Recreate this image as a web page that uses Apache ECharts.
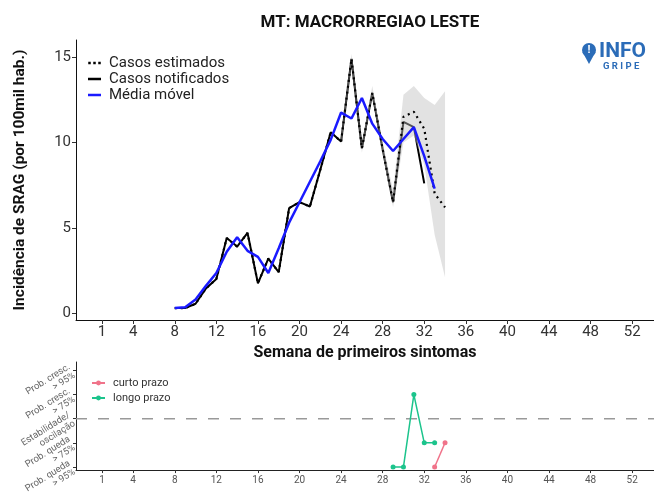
<!DOCTYPE html>
<html><head><meta charset="utf-8">
<script src="https://cdn.jsdelivr.net/npm/echarts@6/dist/echarts.min.js"></script>
<style>html,body{margin:0;padding:0;background:#fff}#c{width:654px;height:504px}</style>
</head><body><div id="c"></div>
<script>
// ---- data ----
const notifWeeks = [8,9,10,11,12,13,14,15,16,17,18,19,20,21,22,23,24,25,26,27,28,29,30,31,32];
const notificados = [0.3,0.3,0.55,1.45,2.0,4.4,3.9,4.7,1.75,3.2,2.4,6.15,6.5,6.25,8.4,10.6,10.05,14.9,9.65,12.9,9.6,6.5,11.2,10.9,7.6];
const estWeeks = [8,9,10,11,12,13,14,15,16,17,18,19,20,21,22,23,24,25,26,27,28,29,30,31,32,33,34];
const estimados = [0.3,0.3,0.55,1.45,2.0,4.4,3.9,4.7,1.75,3.2,2.4,6.15,6.5,6.25,8.4,10.6,10.05,14.9,9.65,12.9,9.6,6.5,11.5,11.8,10.8,7.0,6.2];
const ribbonWeeks = [24,25,26,27,28,29,30,31,32,33,34];
const ribbonLower = [9.8,14.6,9.4,12.7,9.3,6.2,10.0,10.4,8.7,4.6,2.1];
const ribbonUpper = [10.3,15.2,9.9,13.3,10.0,7.2,12.8,13.3,12.6,12.2,13.0];
const mmWeeks = [8,9,10,11,12,13,14,15,16,17,18,19,20,21,22,23,24,25,26,27,28,29,30,31,32,33];
const mediaMovel = [0.3,0.35,0.8,1.6,2.35,3.6,4.45,3.65,3.3,2.35,3.8,5.3,6.5,7.7,8.9,10.15,11.75,11.4,12.6,11.1,10.2,9.5,10.2,10.9,9.2,7.3];
const curtoWeeks = [33,34];
const curtoPrazo = [-2,-1];
const longoWeeks = [29,30,31,32,33];
const longoPrazo = [-2,-2,1,-1,-1];
const xTicks = [1,4,8,12,16,20,24,28,32,36,40,44,48,52];
const yTicks = [0,5,10,15];
const trendLevels = [-2,-1,0,1,2];
const trendLabels = ['Prob. queda\n> 95%','Prob. queda\n> 75%','Estabilidade/\noscilação','Prob. cresc.\n> 75%','Prob. cresc.\n> 95%'];

const pair = (xs, ys) => xs.map((x, i) => [x, ys[i]]);
const FONT = 'Roboto';

const chart = echarts.init(document.getElementById('c'), null, {renderer: 'canvas'});
const option = {
  animation: false,
  backgroundColor: '#fff',
  textStyle: {fontFamily: FONT},
  title: {
    text: 'MT: MACRORREGIAO LESTE', left: 365, top: 9, textAlign: 'center',
    textStyle: {fontFamily: FONT, fontSize: 17, fontWeight: 'bold', color: '#111'}
  },
  grid: [
    {left: 76, right: 0, top: 40, bottom: 184},
    {left: 76, right: 0, top: 362, bottom: 23.5}
  ],
  xAxis: [
    {type: 'value', gridIndex: 0, min: -1.5, max: 54.1,
     name: 'Semana de primeiros sintomas', nameLocation: 'middle', nameGap: 25,
     nameTextStyle: {fontFamily: FONT, fontSize: 16, fontWeight: 'bold', color: '#111'},
     axisLine: {show: true, onZero: false, lineStyle: {color: '#111', width: 1}},
     axisTick: {show: true, length: 4, customValues: xTicks, lineStyle: {color: '#333'}},
     axisLabel: {customValues: xTicks, fontSize: 15, color: '#333', margin: 5, fontFamily: FONT},
     splitLine: {show: false}},
    {type: 'value', gridIndex: 1, min: -1.5, max: 54.1,
     axisLine: {show: true, onZero: false, lineStyle: {color: '#222', width: 1}},
     axisTick: {show: true, length: 3, customValues: xTicks, lineStyle: {color: '#333'}},
     axisLabel: {customValues: xTicks, fontSize: 10, color: '#555', margin: 5, fontFamily: FONT},
     splitLine: {show: false}}
  ],
  yAxis: [
    {type: 'value', gridIndex: 0, min: -0.4, max: 16,
     name: 'Incidência de SRAG (por 100mil hab.)', nameLocation: 'middle', nameGap: 48, nameRotate: 90,
     nameTextStyle: {fontFamily: FONT, fontSize: 15.5, fontWeight: 'bold', color: '#111'},
     axisLine: {show: true, onZero: false, lineStyle: {color: '#111', width: 1}},
     axisTick: {show: true, length: 4, customValues: yTicks, lineStyle: {color: '#333'}},
     axisLabel: {customValues: yTicks, fontSize: 15, color: '#333', margin: 5, fontFamily: FONT},
     splitLine: {show: false}},
    {type: 'value', gridIndex: 1, min: -2.13, max: 2.35,
     axisLine: {show: true, onZero: false, lineStyle: {color: '#222', width: 1}},
     axisTick: {show: true, length: 3, customValues: trendLevels, lineStyle: {color: '#333'}},
     axisLabel: {customValues: trendLevels, fontSize: 9.5, color: '#666', margin: 4, rotate: 32,
       lineHeight: 10, fontFamily: FONT,
       formatter: v => trendLabels[trendLevels.indexOf(Math.round(v))] || ''},
     splitLine: {show: false}}
  ],
  legend: [
    {data: [
       {name: 'Casos estimados', icon: 'path://M0,0h3v3h-3zM6,0h3v3h-3zM12,0h3v3h-3z', itemStyle: {color: '#000'}},
       {name: 'Casos notificados', icon: 'rect', itemStyle: {color: '#000'}},
       {name: 'Média móvel', icon: 'rect', itemStyle: {color: '#1a1aff'}}],
     orient: 'vertical', left: 83, top: 50, itemWidth: 13, itemHeight: 2.5, itemGap: 0,
     textStyle: {fontFamily: FONT, fontSize: 15, color: '#222', lineHeight: 16, padding: [0,0,0,3]}},
    {data: ['curto prazo', 'longo prazo'], orient: 'vertical',
     left: 86, top: 372, itemWidth: 13, itemHeight: 6, itemGap: 3,
     textStyle: {fontFamily: FONT, fontSize: 11, color: '#333', lineHeight: 12, padding: [0,0,0,3]}}
  ],
  series: [
    {name: 'Casos notificados', type: 'line', xAxisIndex: 0, yAxisIndex: 0,
     data: pair(notifWeeks, notificados), symbol: 'none', z: 2,
     lineStyle: {color: '#000', width: 2}, itemStyle: {color: '#000'}},
    {name: 'ic', type: 'custom', xAxisIndex: 0, yAxisIndex: 0, z: 3, silent: true,
     data: ribbonWeeks.map((w, i) => [w, ribbonLower[i], ribbonUpper[i]]),
     encode: {x: 0, y: [1, 2]},
     renderItem: function (params, api) {
       if (params.dataIndex !== 0) return null;
       const up = ribbonWeeks.map((w, i) => api.coord([w, ribbonUpper[i]]));
       const lo = ribbonWeeks.map((w, i) => api.coord([w, ribbonLower[i]])).reverse();
       return {type: 'polygon', shape: {points: up.concat(lo)},
               style: {fill: 'rgba(190,190,190,0.45)'}};
     }},
    {name: 'Casos estimados', type: 'line', xAxisIndex: 0, yAxisIndex: 0, z: 4,
     data: pair(estWeeks, estimados), symbol: 'none',
     lineStyle: {color: '#000', width: 2.2, type: [2, 4]}, itemStyle: {color: '#000'}},
    {name: 'Média móvel', type: 'line', xAxisIndex: 0, yAxisIndex: 0, z: 5,
     data: pair(mmWeeks, mediaMovel), symbol: 'none',
     lineStyle: {color: '#1a1aff', width: 2.5}, itemStyle: {color: '#1a1aff'}},
    {name: 'estab', type: 'line', xAxisIndex: 1, yAxisIndex: 1, data: [[-1.5, 0], [54.1, 0]],
     symbol: 'none', silent: true, lineStyle: {color: '#999', width: 1.5, type: [11, 11]}},
    {name: 'curto prazo', type: 'line', xAxisIndex: 1, yAxisIndex: 1,
     data: pair(curtoWeeks, curtoPrazo), symbol: 'circle', symbolSize: 5,
     lineStyle: {color: '#f0738a', width: 1.5}, itemStyle: {color: '#f0738a'}},
    {name: 'longo prazo', type: 'line', xAxisIndex: 1, yAxisIndex: 1,
     data: pair(longoWeeks, longoPrazo), symbol: 'circle', symbolSize: 5,
     lineStyle: {color: '#1cc48c', width: 1.5}, itemStyle: {color: '#1cc48c'}}
  ],
  graphic: [
    {type: 'circle', shape: {cx: 589, cy: 50, r: 7}, style: {fill: '#2b6cb8'}},
    {type: 'polygon', shape: {points: [[582.5, 52], [595.5, 52], [589, 64]]}, style: {fill: '#2b6cb8'}},
    {type: 'text', style: {x: 589, y: 50, text: '!', fill: '#fff', fontSize: 11, fontWeight: 'bold',
      fontFamily: FONT, align: 'center', verticalAlign: 'middle'}},
    {type: 'text', style: {x: 599, y: 52, text: 'INFO', fill: '#2b6cb8', fontSize: 21, fontWeight: 'bold',
      fontFamily: FONT, verticalAlign: 'middle'}},
    {type: 'text', style: {x: 603, y: 67, text: 'G R I P E', fill: '#2b6cb8', fontSize: 9.5, fontWeight: 'bold',
      fontFamily: FONT, verticalAlign: 'middle'}}
  ]
};
chart.setOption(option);
</script>
</body></html>
